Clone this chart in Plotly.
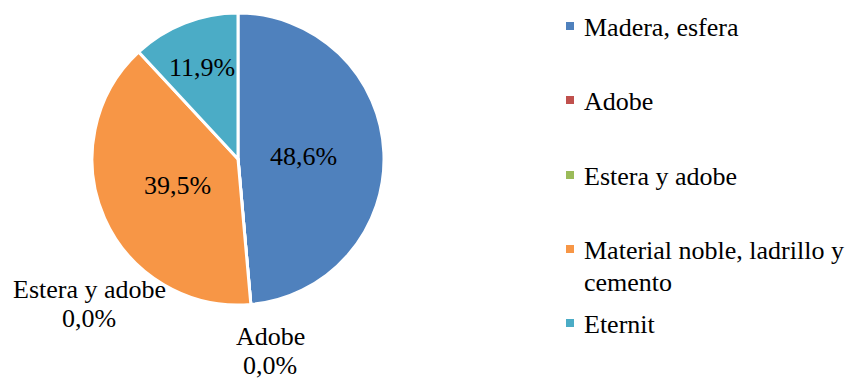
import math
import plotly.graph_objects as go

# Data
categories = ["Madera, esfera", "Adobe", "Estera y adobe",
              "Material noble, ladrillo y cemento", "Eternit"]
legend_lines = [["Madera, esfera"], ["Adobe"], ["Estera y adobe"],
                ["Material noble, ladrillo y", "cemento"], ["Eternit"]]
shares = [48.6, 0.0, 0.0, 39.5, 11.9]
colors = ["#4F81BD", "#C0504D", "#9BBB59", "#F79646", "#4BACC6"]

W, H = 851, 379
FONT = "Liberation Serif, serif"
FS = 26
LINE = 29  # line spacing for two-line labels (px)

def px(x):
    return x / W

def py(y):
    return 1 - y / H

def text_ann(x, y, text, anchor="center"):
    return dict(
        x=px(x), y=py(y), xref="paper", yref="paper",
        text=text, showarrow=False, xanchor=anchor, yanchor="middle",
        font=dict(family=FONT, size=FS),
    )

# pie geometry (pixels)
cx, cy, R = 238, 159, 146

fig = go.Figure()
fig.add_trace(go.Pie(
    labels=categories,
    values=shares,
    sort=False,
    direction="clockwise",
    rotation=0,
    marker=dict(colors=colors, line=dict(color="white", width=3)),
    textinfo="none",
    hoverinfo="label+percent",
    showlegend=False,
    domain=dict(x=[px(cx - R), px(cx + R)], y=[py(cy + R), py(cy - R)]),
))

def fmt(v):
    return f"{v:.1f}".replace(".", ",") + "%"

annotations = []
total = sum(shares)
start = 0.0
# first-line centres of the outside labels for the empty slices
outside_pos = {
    "Adobe": (270, 336),
    "Estera y adobe": (89, 289),
}
for cat, v in zip(categories, shares):
    frac = v / total
    mid = (start + frac / 2) * 2 * math.pi
    start += frac
    if v > 0:
        rf = 0.45 if frac > 0.3 else 0.675
        x = cx + rf * R * math.sin(mid)
        y = cy - rf * R * math.cos(mid)
        annotations.append(text_ann(x, y, fmt(v)))
    else:
        ox, oy = outside_pos[cat]
        annotations.append(text_ann(ox, oy, cat))
        annotations.append(text_ann(ox, oy + LINE, fmt(v)))

# legend
legend_y = [26, 100, 175, 249, 323]
shapes = []
for lines, col, ly in zip(legend_lines, colors, legend_y):
    shapes.append(dict(
        type="rect", xref="paper", yref="paper",
        x0=px(566), x1=px(574), y0=py(ly + 4), y1=py(ly - 4),
        fillcolor=col, line=dict(width=0),
    ))
    for i, line in enumerate(lines):
        annotations.append(text_ann(582, ly + 1 + i * 32, line, anchor="left"))

fig.update_layout(
    template="none",
    width=W, height=H,
    margin=dict(l=0, r=0, t=0, b=0),
    paper_bgcolor="white",
    plot_bgcolor="white",
    font=dict(family=FONT, size=FS, color="black"),
    annotations=annotations,
    shapes=shapes,
)

fig.write_html("out.html")
